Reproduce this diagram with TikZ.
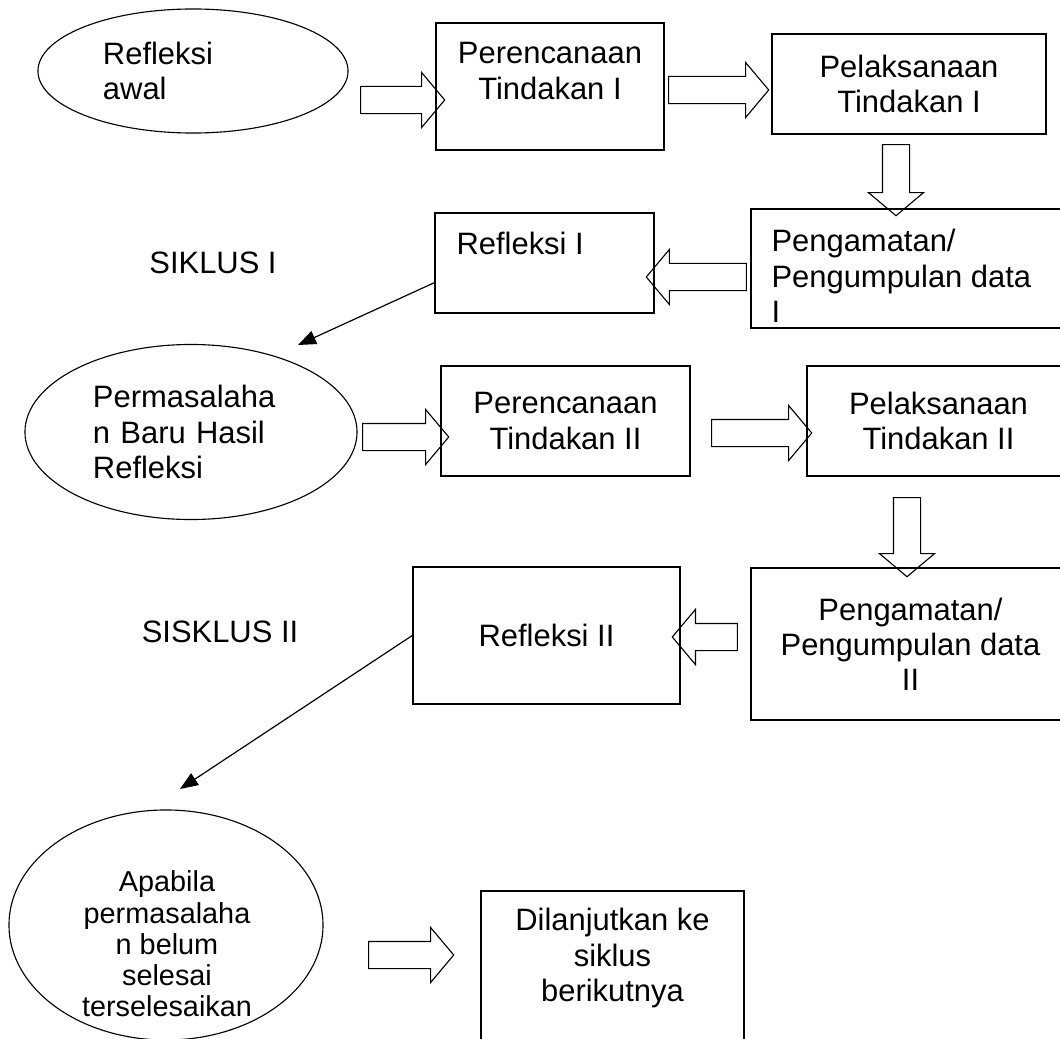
\documentclass[tikz,border=0pt]{standalone}
\usepackage{fontspec}
\setmainfont{Liberation Sans}
\usetikzlibrary{positioning, arrows.meta, shapes.geometric, shapes.arrows, calc}

\begin{document}
\begin{tikzpicture}[x=0.025cm, y=-0.025cm,
    every node/.style={font=\fontsize{22}{25}\selectfont},
    box/.style={draw, rectangle, line width=1pt, inner sep=0pt},
    oval/.style={draw, ellipse, line width=0.8pt, inner sep=0pt},
    txt/.style={inner sep=0pt, align=center},
    fat/.style={single arrow, draw, line width=0.8pt, inner sep=0.325cm, single arrow head extend=0.35cm, single arrow tip angle=100},
    pointer/.style={-{Triangle[length=0.45cm, width=0.35cm]}, line width=0.85pt}]
    \useasboundingbox (0,0) rectangle (1060,1039);

    % Siklus I
    \node[oval, minimum width=7.75cm, minimum height=3.1cm, text width=4.5cm, align=left] (e1) at (193,71) {Refleksi\\awal};
    \node[box, minimum width=5.7cm, minimum height=3.175cm] (p1) at (550,86.5) {};
    \node[txt, below=0.5cm of p1.north] (p1t) {Perencanaan\\Tindakan I};
    \node[box, minimum width=6.85cm, minimum height=2.5cm, align=center] (p2) at (909,84) {Pelaksanaan\\Tindakan I};
    \node[box, minimum width=7.975cm, minimum height=2.975cm] (q1) at (910.5,268.5) {};
    \node[txt, align=left, anchor=north west] (q1t) at ($(q1.north west)+(21,21)$) {Pengamatan/\\Pengumpulan data\\I};
    \node[box, minimum width=5.475cm, minimum height=2.5cm] (r1) at (544.5,263) {};
    \node[txt, anchor=north west] (r1t) at ($(r1.north west)+(22,20)$) {Refleksi I};
    \node (s1) at (213,263) {SIKLUS I};

    % Siklus II
    \node[oval, minimum width=8.3cm, minimum height=4.375cm, text width=4.9cm, align=left] (e2) at (191,432) {Permasalaha\\n Baru Hasil\\Refleksi};
    \node[box, minimum width=6.225cm, minimum height=2.75cm, align=center] (p3) at (565.5,421) {Perencanaan\\Tindakan II};
    \node[box, minimum width=6.575cm, minimum height=2.75cm, align=center] (p4) at (938.5,421) {Pelaksanaan\\Tindakan II};
    \node[box, minimum width=7.975cm, minimum height=3.8cm, align=center] (q2) at (910.5,644) {Pengamatan/\\Pengumpulan data\\II};
    \node[box, minimum width=6.675cm, minimum height=3.425cm] (r2) at (546.5,635.5) {Refleksi II};
    \node (s2) at (220,632) {SISKLUS II};

    % Lanjut
    \node[oval, minimum width=7.85cm, minimum height=5.75cm] (e3) at (166,925) {};
    \node[txt, font=\fontsize{20.5}{22.2}\selectfont] (e3t) at (167,944) {Apabila\\permasalaha\\n belum\\selesai\\terselesaikan};
    \node[box, minimum width=6.575cm, minimum height=4.35cm] (d) at (612.5,978) {};
    \node[txt, below=0.45cm of d.north] (dt) {Dilanjutkan ke\\siklus\\berikutnya};

    % Panah blok
    \node[fat, minimum height=2.1cm] (a1) at (397,100) {};
    \node[fat, minimum height=2.5cm] (a2) at (713,90) {};
    \node[fat, minimum height=1.775cm, shape border rotate=270] (a3) at (896,174.5) {};
    \node[fat, minimum height=2.5cm, shape border rotate=180] (a4) at (702,277) {};
    \node[fat, minimum height=2.15cm] (a5) at (400,437) {};
    \node[fat, minimum height=2.5cm] (a6) at (756,433) {};
    \node[fat, minimum height=1.975cm, shape border rotate=270] (a7) at (907,531.5) {};
    \node[fat, minimum height=1.625cm, shape border rotate=180] (a8) at (710.5,637) {};
    \node[fat, minimum height=2.125cm] (a9) at (405.5,955) {};

    % Panah ke permasalahan baru
    \coordinate (t1) at (298,345);
    \coordinate (t2) at (180,789);
    \draw[pointer] ($(r1.south west)+(0,-31)$) -- (t1);
    \draw[pointer] (r2.west) -- (t2);
\end{tikzpicture}
\end{document}
